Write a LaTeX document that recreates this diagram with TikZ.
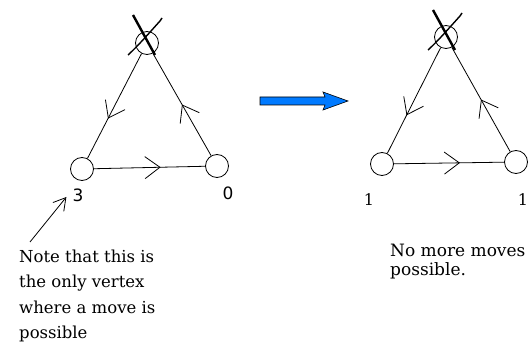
\documentclass[tikz,border=0pt]{standalone}
\usepackage{fontspec}
\setmainfont{DejaVu Serif}
\newfontfamily\lblsans{DejaVu Sans}
\usetikzlibrary{arrows.meta,decorations.markings}
\definecolor{arrblue}{RGB}{0,122,255}
\begin{document}
\begin{tikzpicture}[x=1pt,y=-1pt,
  vtx/.style={circle,draw,line width=0.8pt,minimum size=23pt,inner sep=0pt},
  edge/.style={line width=0.8pt},
  midarr/.style={postaction={decorate},decoration={markings,
     mark=at position #1 with {\arrow{Straight Barb[length=15pt,width=22pt,line width=0.8pt]}}}},
  txt/.style={anchor=base west,inner sep=0pt,font=\fontsize{16.5}{18}\selectfont},
  numsans/.style={inner sep=0pt,font=\lblsans\fontsize{17}{18}\selectfont},
  numserif/.style={inner sep=0pt,font=\fontsize{16}{18}\selectfont},
  crossthick/.style={line width=2.4pt},
  crossthin/.style={line width=1.4pt}]
\useasboundingbox (0,0) rectangle (531,342);
% left triangle
\node[vtx] (T1) at (147,43) {};
\node[vtx] (L1) at (82,169) {};
\node[vtx] (R1) at (217,166) {};
\draw[edge,midarr=0.62] (T1) -- (L1);
\draw[edge,midarr=0.6] (L1) -- (R1);
\draw[edge,midarr=0.5] (R1) -- (T1);
\draw[crossthick] (133,15) -- (155,55);
\draw[crossthin] (162,18) -- (160,21) .. controls (150,32) and (138,46) .. (128,55);
% right triangle
\node[vtx] (T2) at (446,37) {};
\node[vtx] (L2) at (382,164) {};
\node[vtx] (R2) at (516,162) {};
\draw[edge,midarr=0.64] (T2) -- (L2);
\draw[edge,midarr=0.6] (L2) -- (R2);
\draw[edge,midarr=0.5] (R2) -- (T2);
\draw[crossthick] (433,10) -- (455,50);
\draw[crossthin] (462,13) -- (460,16) .. controls (450,27) and (438,41) .. (428,50);
% blue arrow
\draw[line width=0.6pt,fill=arrblue] (260,97) -- (325,97) -- (323,92) -- (348,101) -- (323,110) -- (325,105) -- (260,105) -- cycle;
% labels
\node[numsans] (l3) at (78,195) {3};
\node[numsans] (l0) at (228,193) {0};
\node[numserif] (la) at (369,200) {1};
\node[numserif] (lb) at (523,200) {1};
% annotation
\coordinate (as) at (30,242);
\draw[edge,-{Straight Barb[length=12pt,width=14pt,line width=0.8pt]}] (as) -- ([xshift=-6pt,yshift=-2pt]l3.west);
\node[txt] (n1) at (19,263) {Note that this is};
\node[txt] (n2) at (19,288) {the only vertex};
\node[txt] (n3) at (19,313) {where a move is};
\node[txt] (n4) at (19,338) {possible};
\node[txt,font=\fontsize{17}{18}\selectfont] (m1) at (390,257) {No more moves};
\node[txt,font=\fontsize{17}{18}\selectfont] (m2) at (390,276) {possible.};
\end{tikzpicture}
\end{document}
